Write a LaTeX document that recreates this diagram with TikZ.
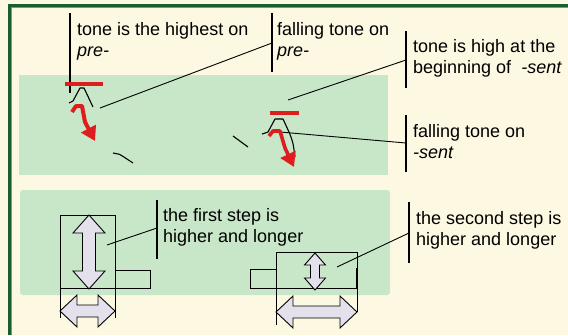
\documentclass[tikz,border=0pt]{standalone}
\usepackage{fontspec}
\setmainfont{Liberation Sans}
\usetikzlibrary{arrows.meta}
\definecolor{cream}{RGB}{253,248,226}
\definecolor{pale}{RGB}{200,230,200}
\definecolor{framegreen}{RGB}{25,95,45}
\definecolor{tonered}{RGB}{222,30,30}
\definecolor{arrowfill}{RGB}{228,225,236}
\tikzset{
 lbl/.style={anchor=west, align=left, inner sep=0pt, font=\fontsize{18}{21}\selectfont},
 bar/.style={draw=black, line width=1.1pt},
 leader/.style={draw=black, line width=0.9pt},
 tonemark/.style={draw=black, line width=1.1pt, line join=round},
 redbar/.style={draw=tonered, line width=4pt},
 redarrow/.style={draw=tonered, line width=4pt, line join=round, -{Triangle[length=14pt,width=16pt]}},
 stepfig/.style={draw=black, line width=1pt},
 dblarrow/.style={draw=black, fill=arrowfill, line width=0.9pt, line join=miter},
}
\begin{document}
\begin{tikzpicture}[x=1pt,y=-1pt]
\useasboundingbox (0,0) rectangle (568,335);
\fill[cream] (0,0) rectangle (568,335);
\fill[pale] (19,75) rectangle (388,175);
\fill[pale, rounded corners=3pt] (20,190) rectangle (390,295);
% frame
\draw[framegreen, line width=3pt] (9.5,335) -- (9.5,5.5) -- (568,5.5);
\draw[black!45, line width=0.8pt] (11.8,335) -- (11.8,7.8) -- (568,7.8);

% labels
\node[lbl] (t1) at (77,41) {tone is the highest on\\\textit{pre-}};
\node[lbl] (t2) at (277,41) {falling tone on\\\textit{pre-}};
\node[lbl] (t3) at (413,58.5) {tone is high at the\\beginning of\ \ \textit{-sent}};
\node[lbl] (t4) at (413,141.5) {falling tone on\\\textit{-sent}};
\node[lbl] (t5) at (163,227) {the first step is\\higher and longer};
\node[lbl] (t6) at (416,230) {the second step is\\higher and longer};

% callout bars and leaders
\coordinate (b1t) at (70,13); \coordinate (b1b) at (70,93);
\draw[bar] (b1t) -- (b1b);
\coordinate (b2t) at (272,13); \coordinate (b2b) at (272,72);
\coordinate (b2m) at (272,43); \coordinate (m2) at (100,108);
\draw[bar] (b2t) -- (b2b);
\draw[leader] (b2m) -- (m2);
\coordinate (b3t) at (406,31); \coordinate (b3b) at (406,88);
\coordinate (b3m) at (406,60); \coordinate (m3) at (288,100);
\draw[bar] (b3t) -- (b3b);
\draw[leader] (b3m) -- (m3);
\coordinate (b4t) at (406,115); \coordinate (b4b) at (406,172);
\coordinate (b4m) at (406,143); \coordinate (m4) at (280,132);
\draw[bar] (b4t) -- (b4b);
\draw[leader] (b4m) -- (m4);
\coordinate (b5t) at (157,200); \coordinate (b5b) at (157,259);
\coordinate (b5m) at (157,228); \coordinate (m5) at (107,245);
\draw[bar] (b5t) -- (b5b);
\draw[leader] (b5m) -- (m5);
\coordinate (b6t) at (409,202); \coordinate (b6b) at (409,263);
\coordinate (b6m) at (409,233); \coordinate (m6) at (337,267);
\draw[bar] (b6t) -- (b6b);
\draw[leader] (b6m) -- (m6);

% tone marks
\draw[redbar] (65,84) -- (103,84);
\draw[tonemark] (69,103) -- (73,101) -- (80,88) -- (84,88) -- (93,107);
\draw[redarrow] (72,112) -- (76,106) -- (82,106) -- (85,122) -- (95,141);
\draw[tonemark] (113,153) .. controls (118,153) .. (133,163);
\draw[tonemark] (233,136) -- (248,147);
\draw[redbar] (270,113) -- (299,113);
\draw[tonemark] (262,134) -- (268,132) -- (275,119) -- (283,119) -- (289,132) .. controls (293,142) .. (295,157);
\draw[redarrow, line width=3.6pt] (269,136) -- (273,131) -- (280,131) -- (285,148) -- (294,167);

% step figures
\draw[stepfig] (60,318) -- (60,215) -- (115,215) -- (115,318);
\draw[stepfig] (60,288) -- (150,288) -- (150,270) -- (115,270);
\draw[stepfig] (276,325) -- (276,252) -- (357,252) -- (357,312);
\draw[stepfig] (357,288) -- (250,288) -- (250,269) -- (276,269);
\draw[line width=2pt] (357,268) -- (357,288);

\draw[dblarrow] (89,215) -- (105,233) -- (95.5,233) -- (95.5,271) -- (105,271) -- (89,289) -- (73,271) -- (82.5,271) -- (82.5,233) -- (73,233) -- cycle;
\draw[dblarrow] (60,311) -- (77,295) -- (77,305) -- (98,305) -- (98,295) -- (115,311) -- (98,327) -- (98,317) -- (77,317) -- (77,327) -- cycle;
\draw[dblarrow] (315,253) -- (325.5,265) -- (319.5,265) -- (319.5,278) -- (325.5,278) -- (315,290) -- (304.5,278) -- (310.5,278) -- (310.5,265) -- (304.5,265) -- cycle;
\draw[dblarrow] (276,312) -- (293,296) -- (293,306) -- (340,306) -- (340,296) -- (357,312) -- (340,328) -- (340,318) -- (293,318) -- (293,328) -- cycle;
\end{tikzpicture}
\end{document}
